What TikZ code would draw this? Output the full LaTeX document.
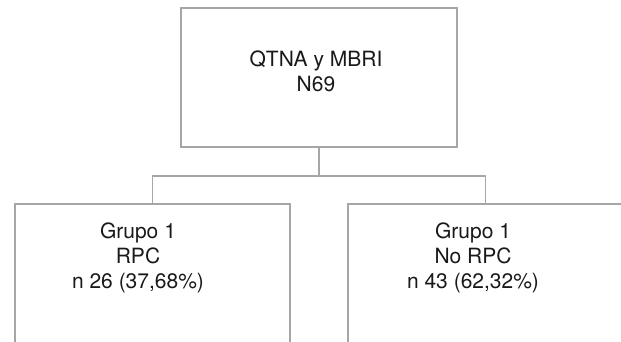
\documentclass[tikz,border=0pt]{standalone}
\usepackage{fontspec}
\setmainfont{TeX Gyre Heros}
\begin{document}
\begin{tikzpicture}[x=1pt,y=1pt,
  boxst/.style={draw=gray!70,line width=1.1pt,rectangle,inner sep=0pt},
  conn/.style={draw=gray!70,line width=1.1pt},
  txt/.style={align=center,font=\fontsize{21}{25}\selectfont,text=black!90,inner sep=0pt,anchor=base}]
\useasboundingbox (0,0) rectangle (621,341);
\begin{scope}
\clip (0,0) rectangle (621,341);
\node[boxst,minimum width=276pt,minimum height=139pt] (top) at (319,263.5) {};
\node[boxst,minimum width=275pt,minimum height=200pt] (left) at (152.5,37) {};
\node[boxst,minimum width=275pt,minimum height=200pt] (right) at (485.5,37) {};
\coordinate (j) at (319,165);
\draw[conn] (top.south) -- (j);
\draw[conn] (j) -| (left.north);
\draw[conn] (j) -| (right.north);
\end{scope}
\node[txt] (ttop) at (316,249.3) {QTNA y MBRI\\N69};
\node[txt] (tleft) at (138,53) {Grupo 1\\RPC\\n 26 (37,68\%)};
\node[txt] (tright) at (473,53) {Grupo 1\\No RPC\\n 43 (62,32\%)};
\end{tikzpicture}
\end{document}
